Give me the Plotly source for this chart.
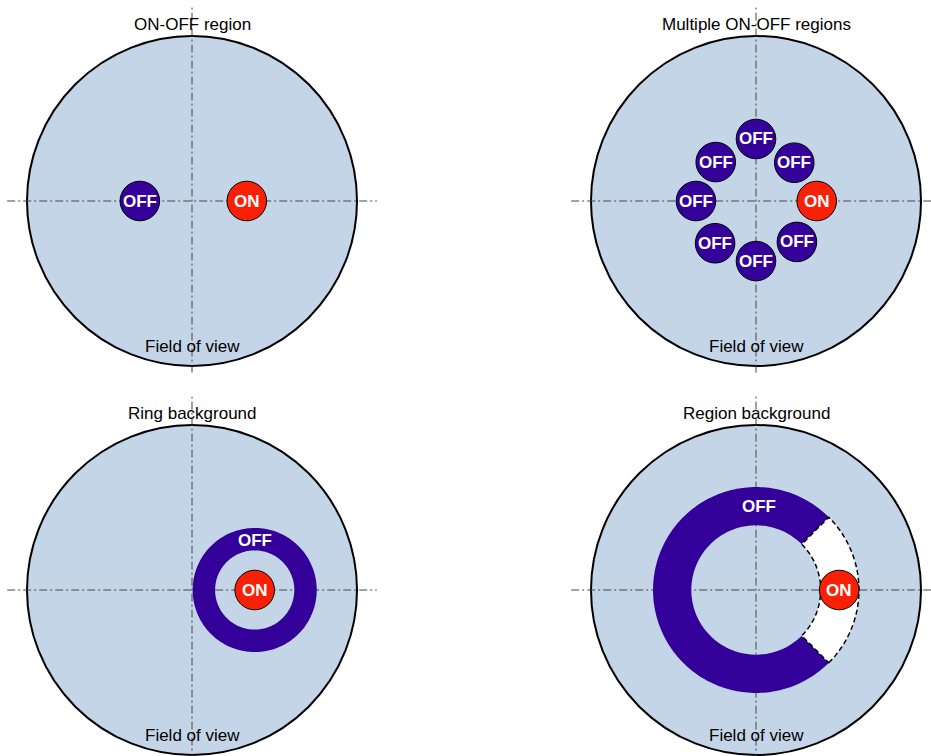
import numpy as np
import plotly.graph_objects as go

# --- data (units: degrees, field of view radius = 2.5) ---
PANEL_TITLES = ["ON-OFF region", "Multiple ON-OFF regions", "Ring background", "Region background"]
FOV_LABEL = "Field of view"
FOV_RADIUS = 2.5
REGION_RADIUS = 0.3

# panel 1: one ON and one OFF region
onoff_x = [-0.79, 0.83]
onoff_y = [0.0, 0.0]
onoff_labels = ["OFF", "ON"]

# panel 2: reflected regions
multi_x = [0.0, 0.58, 0.92, 0.62, 0.0, -0.62, -0.91, -0.61]
multi_y = [0.94, 0.58, 0.0, -0.62, -0.91, -0.64, 0.0, 0.59]
multi_labels = ["OFF", "OFF", "ON", "OFF", "OFF", "OFF", "OFF", "OFF"]

# panel 3: ring around the ON region
ring_center = [0.95, 0.0]
ring_radii = [0.6, 0.94]

# panel 4: region background, excluded sector around ON
bkg_radii = [0.98, 1.56]
bkg_angles = [45, 315]
excl_angles = [-45, 45]
region_on = [1.26, 0.0]

# --- styles ---
FOV_FILL = "#c5d5e8"
OFF_COLOR = "#330099"
ON_COLOR = "#fa2005"
AXIS_LINE = "#444444"
FONT = "Arial, Liberation Sans, Helvetica, sans-serif"
W, H = 931, 756
PX = 66.0  # pixels per degree
# pixel position of each panel centre, and pixel box of each subplot
centers = [(192, 201), (756, 201), (192, 590), (756, 590)]
boxes = [(0, 465.5, 0, 378), (465.5, 931, 0, 378), (0, 465.5, 378, 756), (465.5, 931, 378, 756)]


def annulus_path(cx, cy, r0, r1, a0=0, a1=360, n=180):
    t = np.radians(np.linspace(a0, a1, n))
    xo, yo = cx + r1 * np.cos(t), cy + r1 * np.sin(t)
    xi, yi = cx + r0 * np.cos(t[::-1]), cy + r0 * np.sin(t[::-1])
    if a1 - a0 >= 360:
        outer = "M" + " L".join(f"{x:.4f},{y:.4f}" for x, y in zip(xo, yo)) + " Z"
        inner = " M" + " L".join(f"{x:.4f},{y:.4f}" for x, y in zip(xi, yi)) + " Z"
        return outer + inner
    pts = list(zip(xo, yo)) + list(zip(xi, yi))
    return "M" + " L".join(f"{x:.4f},{y:.4f}" for x, y in pts) + " Z"


fig = go.Figure()
shapes, annotations = [], []

for i in range(4):
    n = "" if i == 0 else str(i + 1)
    xr, yr = "x" + n, "y" + n
    cx, cy = centers[i]
    x0, x1, y0, y1 = boxes[i]
    fig.update_layout(**{
        "xaxis" + n: dict(domain=[x0 / W, x1 / W], range=[(x0 - cx) / PX, (x1 - cx) / PX],
                          visible=False, anchor=yr, fixedrange=True),
        "yaxis" + n: dict(domain=[1 - y1 / H, 1 - y0 / H], range=[(cy - y1) / PX, (cy - y0) / PX],
                          visible=False, anchor=xr, fixedrange=True),
    })
    # invisible trace so the axes exist
    fig.add_trace(go.Scatter(x=[0], y=[0], xaxis=xr, yaxis=yr, mode="markers",
                             marker=dict(opacity=0), hoverinfo="skip", showlegend=False))

    # field of view
    shapes.append(dict(type="circle", xref=xr, yref=yr, x0=-FOV_RADIUS, x1=FOV_RADIUS,
                       y0=-FOV_RADIUS, y1=FOV_RADIUS, fillcolor=FOV_FILL,
                       line=dict(color="black", width=2), layer="below"))
    # dash-dot axes through the centre
    dd = dict(color=AXIS_LINE, width=1, dash="8px,3px,2px,3px")
    shapes.append(dict(type="line", xref=xr, yref=yr, x0=-2.8, x1=2.8, y0=0, y1=0, line=dd, layer="below"))
    shapes.append(dict(type="line", xref=xr, yref=yr, x0=0, x1=0, y0=-2.6, y1=2.97, line=dd, layer="below"))

    annotations.append(dict(x=0, y=2.68, xref=xr, yref=yr, text=PANEL_TITLES[i], showarrow=False,
                            font=dict(family=FONT, size=17, color="black")))
    annotations.append(dict(x=0, y=-2.2, xref=xr, yref=yr, text=FOV_LABEL, showarrow=False,
                            font=dict(family=FONT, size=17, color="black")))


def add_region(xr, yr, x, y, label):
    shapes.append(dict(type="circle", xref=xr, yref=yr, x0=x - REGION_RADIUS, x1=x + REGION_RADIUS,
                       y0=y - REGION_RADIUS, y1=y + REGION_RADIUS,
                       fillcolor=ON_COLOR if label == "ON" else OFF_COLOR,
                       line=dict(color="black", width=1)))
    annotations.append(dict(x=x, y=y, xref=xr, yref=yr, text=label, showarrow=False,
                            font=dict(family=FONT, size=17, color="white", weight="bold")))


# panel 1
for x, y, lab in zip(onoff_x, onoff_y, onoff_labels):
    add_region("x", "y", x, y, lab)

# panel 2
for x, y, lab in zip(multi_x, multi_y, multi_labels):
    add_region("x2", "y2", x, y, lab)

# panel 3
shapes.append(dict(type="path", xref="x3", yref="y3", fillrule="evenodd",
                   path=annulus_path(ring_center[0], ring_center[1], ring_radii[0], ring_radii[1]),
                   fillcolor=OFF_COLOR, line=dict(width=0)))
annotations.append(dict(x=ring_center[0], y=ring_center[1] + np.mean(ring_radii) - 0.02, xref="x3", yref="y3",
                        text="OFF", showarrow=False,
                        font=dict(family=FONT, size=17, color="white", weight="bold")))
add_region("x3", "y3", ring_center[0], ring_center[1], "ON")

# panel 4
shapes.append(dict(type="path", xref="x4", yref="y4",
                   path=annulus_path(0, 0, bkg_radii[0], bkg_radii[1], bkg_angles[0], bkg_angles[1]),
                   fillcolor=OFF_COLOR, line=dict(width=0)))
shapes.append(dict(type="path", xref="x4", yref="y4",
                   path=annulus_path(0, 0, bkg_radii[0], bkg_radii[1], excl_angles[0], excl_angles[1], 60),
                   fillcolor="white", line=dict(color="black", width=1.5, dash="5px,3px")))
annotations.append(dict(x=0.05, y=np.mean(bkg_radii), xref="x4", yref="y4", text="OFF", showarrow=False,
                        font=dict(family=FONT, size=17, color="white", weight="bold")))
add_region("x4", "y4", region_on[0], region_on[1], "ON")

fig.update_layout(width=W, height=H, autosize=False, margin=dict(l=0, r=0, t=0, b=0),
                  paper_bgcolor="white", plot_bgcolor="rgba(0,0,0,0)",
                  shapes=shapes, annotations=annotations, showlegend=False)

# drop the default 8px body margin so the figure fills the window
fig.write_html("out.html", config={"displayModeBar": False},
               post_script="document.body.style.margin='0';document.body.style.overflow='hidden';")
